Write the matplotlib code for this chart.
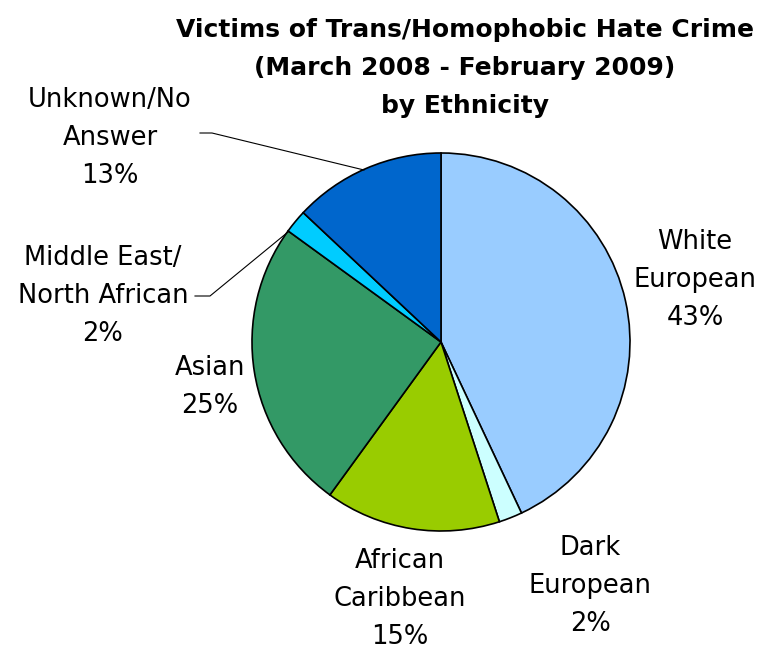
import matplotlib.pyplot as plt

labels = ["White\nEuropean", "Dark\nEuropean", "African\nCaribbean", "Asian",
          "Middle East/\nNorth African", "Unknown/No\nAnswer"]
values = [43, 2, 15, 25, 2, 13]
colors = ["#99CCFF", "#CCFFFF", "#99CC00", "#339966", "#00CCFF", "#0066CC"]

# label positions in pixels (from top-left)
label_xy = [(695, 280), (590, 586), (400, 599), (210, 387), (103, 296), (110, 138)]

plt.rcParams["font.family"] = "DejaVu Sans"

fig = plt.figure(figsize=(7.6, 6.5), dpi=100)
ax = fig.add_axes([0, 0, 1, 1])

ax.pie(values, colors=colors, startangle=90, counterclock=False,
       center=(441, 650 - 342), radius=189, frame=True,
       wedgeprops=dict(edgecolor="black", linewidth=1.2))
ax.set_xlim(0, 760)
ax.set_ylim(0, 650)
ax.set_aspect("equal")
ax.axis("off")

for lab, v, (x, y) in zip(labels, values, label_xy):
    ax.text(x, 650 - y, f"{lab}\n{v}%", ha="center", va="center",
            fontsize=18.5, linespacing=1.6)

# leader lines
ax.plot([200, 212, 364], [650 - 133, 650 - 133, 650 - 170], color="black", lw=0.8)
ax.plot([195, 210, 288], [650 - 296, 650 - 296, 650 - 232], color="black", lw=0.8)

ax.text(465, 650 - 68, "Victims of Trans/Homophobic Hate Crime\n(March 2008 - February 2009)\nby Ethnicity",
        ha="center", va="center", fontsize=18, fontweight="bold", linespacing=1.75)

fig.savefig("out.png", dpi=100)
